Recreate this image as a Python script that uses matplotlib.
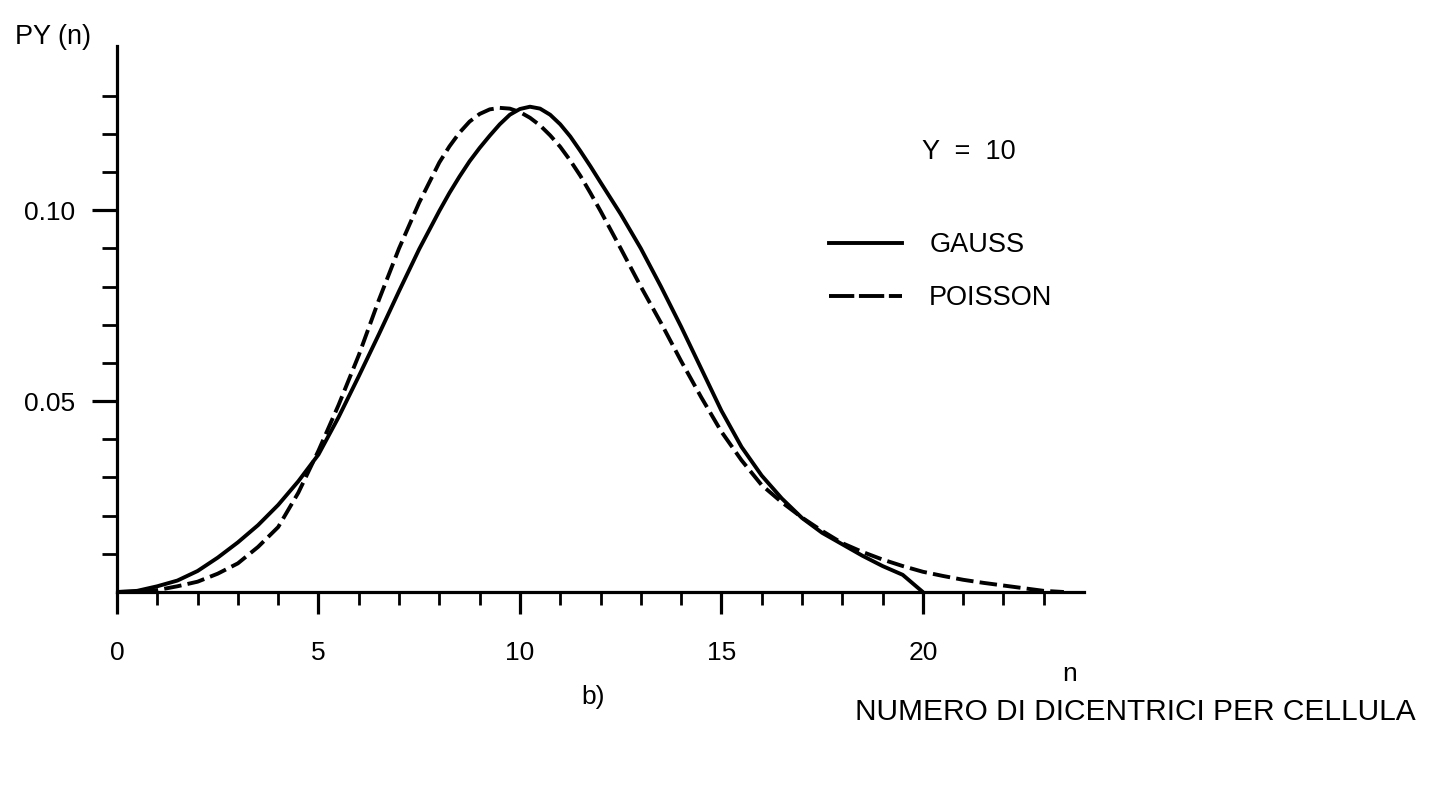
import matplotlib
matplotlib.use("Agg")
import matplotlib.pyplot as plt
from matplotlib.lines import Line2D

plt.rcParams.update({
    "font.family": ["Liberation Sans", "DejaVu Sans"],
    "font.size": 19,
})

# values (Y = 10)
n_gauss = [0, 0.5, 1, 1.5, 2, 2.5, 3, 3.5, 4, 4.5, 5, 5.5, 6, 6.5, 7, 7.5, 8, 8.25, 8.5,
           8.75, 9, 9.25, 9.5, 9.75, 10, 10.25, 10.5, 10.75, 11, 11.25, 11.5, 11.75, 12,
           12.5, 13, 13.5, 14, 14.5, 15, 15.5, 16, 16.5, 17, 17.5, 18, 18.5, 19, 19.5, 20]
p_gauss = [0.0, 0.0003, 0.0015, 0.003, 0.0055, 0.009, 0.013, 0.0175, 0.0228, 0.029,
           0.036, 0.0458, 0.0565, 0.0675, 0.0788, 0.0898, 0.0998, 0.1045, 0.1088,
           0.1128, 0.1163, 0.1195, 0.1225, 0.1250, 0.1265, 0.1271, 0.1266, 0.1250,
           0.1225, 0.1193, 0.1155, 0.1115, 0.1073,
           0.0990, 0.0900, 0.0800, 0.0695, 0.0585, 0.0475, 0.0380, 0.0305, 0.0245,
           0.0194, 0.0155, 0.0125, 0.0095, 0.0068, 0.0045, 0.0]

n_poisson = [0, 0.5, 1, 1.5, 2, 2.5, 3, 3.5, 4, 4.5, 5, 5.5, 6, 6.5, 7, 7.5, 8, 8.25, 8.5,
             8.75, 9, 9.25, 9.5, 9.75, 10, 10.25, 10.5, 10.75, 11, 11.25, 11.5, 11.75, 12,
             12.5, 13, 13.5, 14, 14.5, 15, 15.5, 16, 16.5, 17, 17.5, 18, 18.5, 19, 19.5,
             20, 20.5, 21, 21.5, 22, 22.5, 23, 23.5]
p_poisson = [0.0, 0.0001, 0.0005, 0.0015, 0.0027, 0.0048, 0.0075, 0.0118, 0.017, 0.026,
             0.037, 0.049, 0.062, 0.0765, 0.090, 0.102, 0.1125, 0.1167, 0.1203, 0.1232,
             0.1252, 0.1264, 0.1268, 0.1266, 0.1257, 0.1242, 0.1222, 0.1196, 0.1166,
             0.1130, 0.1090, 0.1045, 0.0998,
             0.0900, 0.0800, 0.0705, 0.0605, 0.051, 0.042, 0.0345, 0.028, 0.0235, 0.0195,
             0.016, 0.0128, 0.0105, 0.0085, 0.0068, 0.0053, 0.0042, 0.0032, 0.0024,
             0.0017, 0.0010, 0.0003, 0.0]

x_major = [0, 5, 10, 15, 20]
x_minor = [1, 2, 3, 4, 6, 7, 8, 9, 11, 12, 13, 14, 16, 17, 18, 19, 21, 22, 23]
y_major = [0.05, 0.10]
y_minor = [0.01, 0.02, 0.03, 0.04, 0.06, 0.07, 0.08, 0.09, 0.11, 0.12, 0.13]

W, H = 1430, 787
fig = plt.figure(figsize=(W / 100, H / 100), dpi=100)
ax = fig.add_axes([117 / W, 1 - 592 / H, 967 / W, 546 / H])

LW = 2.8
ax.plot(n_gauss, p_gauss, color="black", lw=LW, solid_joinstyle="round",
        solid_capstyle="round")
ax.plot(n_poisson, p_poisson, color="black", lw=LW, dashes=(4.5, 1.6),
        dash_joinstyle="round")

ax.set_xlim(0, 24)
ax.set_ylim(0, 0.143)
for s in ("top", "right"):
    ax.spines[s].set_visible(False)
for s in ("left", "bottom"):
    ax.spines[s].set_linewidth(2.3)

ax.set_xticks(x_major)
ax.set_xticklabels([str(v) for v in x_major])
ax.set_xticks(x_minor, minor=True)
ax.set_yticks(y_major)
ax.set_yticklabels(["0.05", "0.10"])
ax.set_yticks(y_minor, minor=True)
ax.tick_params(axis="x", which="major", length=16, width=2.3, pad=19, labelsize=19)
ax.tick_params(axis="x", which="minor", length=9, width=2.0)
ax.tick_params(axis="y", which="major", length=18, width=2.3, pad=12, labelsize=19)
ax.tick_params(axis="y", which="minor", length=11, width=2.0)

ax.text(23.65, -0.0215, "n", ha="center", va="center", fontsize=19, clip_on=False)

# legend
h_g = Line2D([], [], color="black", lw=2.8)
h_p = Line2D([], [], color="black", lw=2.8, dashes=(6.5, 1.2))
leg = ax.legend([h_g, h_p], ["GAUSS", "POISSON"], loc="upper left",
                bbox_to_anchor=(829 / W, 1 - 232 / H), bbox_transform=fig.transFigure,
                frameon=False, fontsize=19.5, handlelength=2.7, handletextpad=1.0,
                labelspacing=1.0, borderpad=0, borderaxespad=0)

fig.text(922 / W, 1 - 152 / H, "Y  =  10", ha="left", va="center", fontsize=19.5)
fig.text(15 / W, 1 - 37 / H, "PY (n)", ha="left", va="center", fontsize=19.5)
fig.text(593 / W, 1 - 697 / H, "b)", ha="center", va="center", fontsize=19)
fig.text(855 / W, 1 - 712 / H, "NUMERO DI DICENTRICI PER CELLULA", ha="left",
         va="center", fontsize=21.5)

fig.savefig("out.png", dpi=100)
